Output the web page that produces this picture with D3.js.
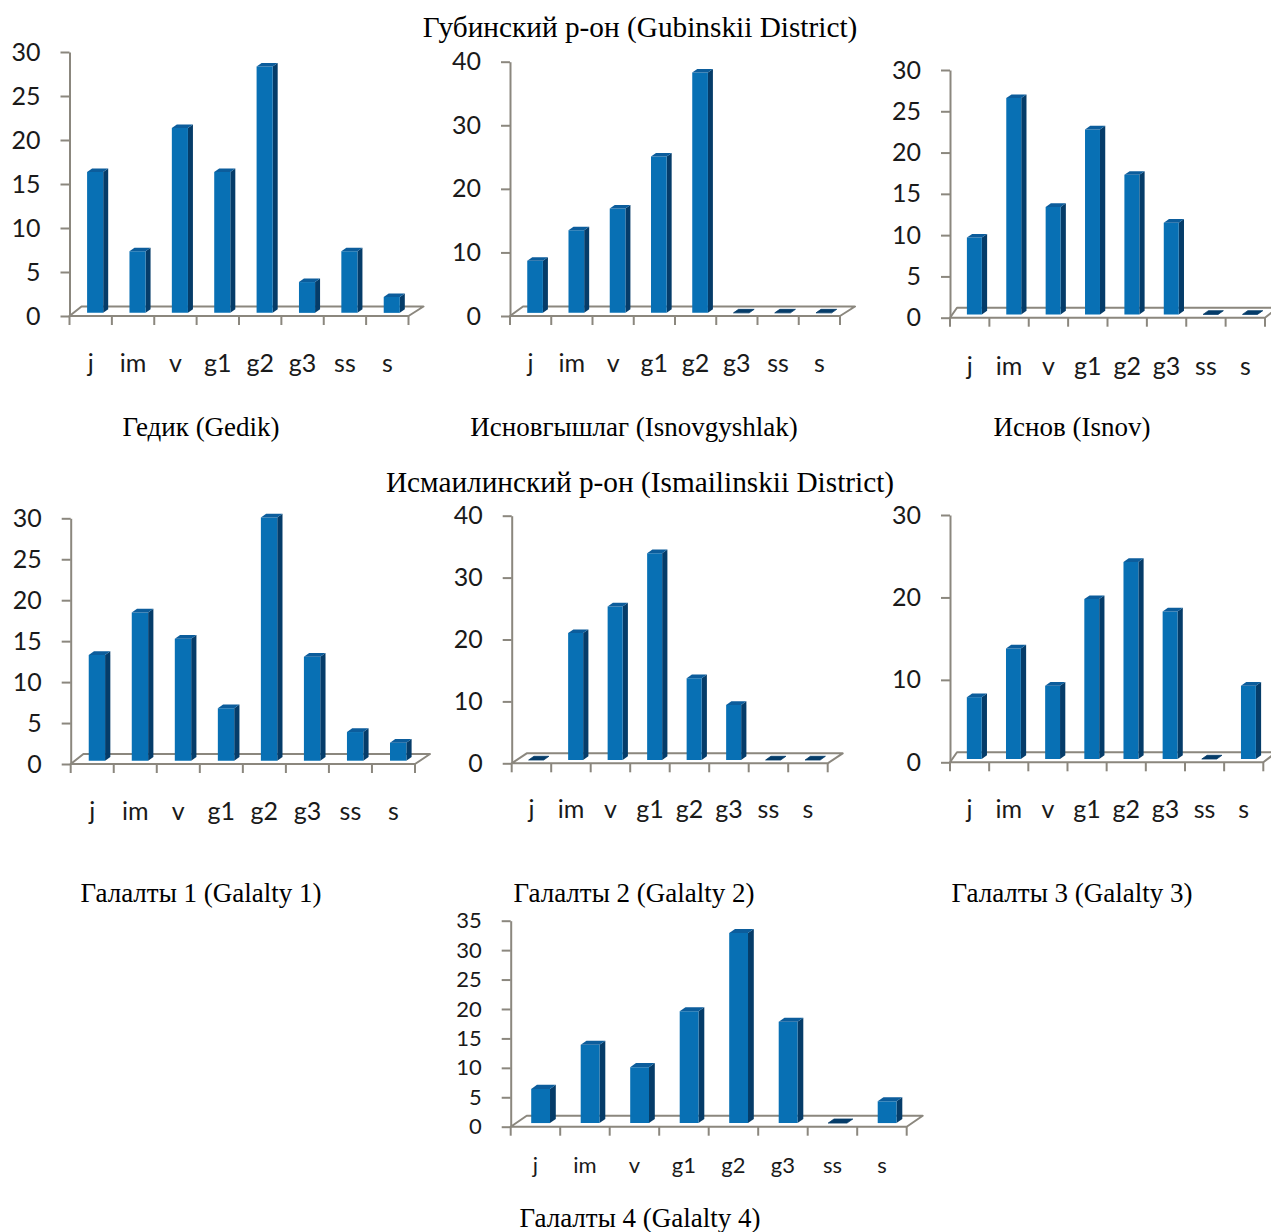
<!DOCTYPE html>
<html><head><meta charset="utf-8">
<script src="https://cdn.jsdelivr.net/npm/d3@7/dist/d3.min.js"></script>
<style>
body{margin:0;background:#fff;}
svg{display:block;}
.ttl{font-family:"Liberation Serif","Times New Roman",serif;font-size:27px;fill:#000;}
.head{font-family:"Liberation Serif","Times New Roman",serif;font-size:29.3px;fill:#000;}
</style></head>
<body>
<svg id="chart" width="1271" height="1232"></svg>
<script>
// ---- data ----
const categories = ["j", "im", "v", "g1", "g2", "g3", "ss", "s"];
const gedik        = [16, 7, 21, 16, 28, 3.5, 7, 1.8];
const isnovgyshlak = [8.2, 13, 16.4, 24.6, 37.8, 0, 0, 0];
const isnov        = [9.3, 26.2, 13, 22.4, 16.9, 11.1, 0, 0];
const galalty1     = [12.9, 18.1, 14.9, 6.4, 29.7, 12.7, 3.5, 2.2];
const galalty2     = [0, 20.5, 24.8, 33.4, 13.2, 8.9, 0, 0];
const galalty3     = [7.5, 13.4, 8.9, 19.4, 23.9, 17.9, 0, 8.9];
const galalty4     = [5.8, 13.3, 9.5, 19.0, 32.3, 17.2, 0, 3.7];
const ticks30by5  = [0, 5, 10, 15, 20, 25, 30];
const ticks40by10 = [0, 10, 20, 30, 40];
const ticks30by10 = [0, 10, 20, 30];
const ticks35by5  = [0, 5, 10, 15, 20, 25, 30, 35];
const headings = ["Губинский р-он (Gubinskii District)", "Исмаилинский р-он (Ismailinskii District)"];
const panelTitles = ["Гедик (Gedik)", "Исновгышлаг (Isnovgyshlak)", "Иснов (Isnov)",
  "Галалты 1 (Galalty 1)", "Галалты 2 (Galalty 2)", "Галалты 3 (Galalty 3)", "Галалты 4 (Galalty 4)"];

// ---- layout ----
const panels = [
  {vals: gedik,        ticks: ticks30by5,  ax: 69.5, rx: 408.5, yTop: 52,    y0: 316,    ddxL: 12, ddxR: 15, ddy: -9.5, lab: 372,  fs: 25, title: [201, 436]},
  {vals: isnovgyshlak, ticks: ticks40by10, ax: 510,  rx: 840,   yTop: 61.7,  y0: 316,    ddxL: 13, ddxR: 15, ddy: -9.5, lab: 372,  fs: 25, title: [634, 436]},
  {vals: isnov,        ticks: ticks30by5,  ax: 950,  rx: 1265,  yTop: 70,    y0: 317.7,  ddxL: 7,  ddxR: 13, ddy: -10,  lab: 375,  fs: 25, title: [1072, 436]},
  {vals: galalty1,     ticks: ticks30by5,  ax: 70.7, rx: 415,   yTop: 518.3, y0: 764,    ddxL: 12.7,ddxR: 15, ddy: -10,  lab: 820,  fs: 25, title: [201, 902]},
  {vals: galalty2,     ticks: ticks40by10, ax: 511.7,rx: 827.7, yTop: 515.7, y0: 763.3,  ddxL: 15, ddxR: 15, ddy: -10,  lab: 818,  fs: 25, title: [634, 902]},
  {vals: galalty3,     ticks: ticks30by10, ax: 950,  rx: 1263.3,yTop: 515,   y0: 762.3,  ddxL: 7,  ddxR: 13, ddy: -10,  lab: 818,  fs: 25, title: [1072, 902]},
  {vals: galalty4,     ticks: ticks35by5,  ax: 510.7,rx: 906.7, yTop: 920.7, y0: 1126.7, ddxL: 16, ddxR: 16, ddy: -11,  lab: 1173, fs: 22, title: [640, 1227]}
];

const AXIS = "#8b877e", FRONT = "#0870b4", SIDE = "#053c69", TOP = "#0c5d9c";
const svg = d3.select("#chart");

svg.append("text").attr("class", "head").attr("x", 640).attr("y", 37).attr("text-anchor", "middle").text(headings[0]);
svg.append("text").attr("class", "head").attr("x", 640).attr("y", 492).attr("text-anchor", "middle").text(headings[1]);

panels.forEach((p, i) => {
  const g = svg.append("g");
  const maxV = d3.max(p.ticks);
  const y = d3.scaleLinear().domain([0, maxV]).range([p.y0, p.yTop]);
  const x = d3.scaleBand().domain(categories).range([p.ax, p.rx]).paddingInner(0).paddingOuter(0);
  const bw = x.bandwidth();
  const barDdx = 13.5 * (p.ddy / -9.5);
  const proj = (xp, v, z, dx) => [xp + z * dx, y(v) + z * p.ddy];

  // floor
  const f = [[p.ax, p.y0], [p.rx, p.y0], [p.rx + p.ddxR, p.y0 + p.ddy], [p.ax + p.ddxL, p.y0 + p.ddy]];
  g.append("path").attr("d", "M" + f.map(q => q.join(",")).join("L") + "Z")
    .attr("fill", "none").attr("stroke", AXIS).attr("stroke-width", 2).attr("stroke-linejoin", "round");

  // y axis
  const yAxis = d3.axisLeft(y).tickValues(p.ticks).tickSize(9).tickSizeOuter(0).tickPadding(20).tickFormat(d3.format("d"));
  const ya = g.append("g").attr("transform", `translate(${p.ax},0)`).call(yAxis);
  ya.select(".domain").attr("stroke", AXIS).attr("stroke-width", 2);
  ya.selectAll(".tick line").attr("stroke", AXIS).attr("stroke-width", 2);
  ya.selectAll(".tick text").attr("fill", "#1a1a1a").style("font-family", "Lato, 'Open Sans', sans-serif").style("font-size", p.fs + "px");

  // x ticks at band boundaries
  const bounds = categories.map(c => x(c)).concat([x.range()[1]]);
  g.selectAll("line.xt").data(bounds).join("line").attr("class", "xt")
    .attr("x1", d => d).attr("x2", d => d).attr("y1", p.y0).attr("y2", p.y0 + 9)
    .attr("stroke", AXIS).attr("stroke-width", 2);
  g.selectAll("text.xl").data(categories).join("text").attr("class", "xl")
    .attr("x", d => x(d) + bw / 2).attr("y", p.lab).attr("text-anchor", "middle")
    .attr("fill", "#1a1a1a").style("font-family", "Lato, 'Open Sans', sans-serif").style("font-size", p.fs + "px")
    .text(d => d);

  // bars
  const z0 = 0.33, z1 = 0.7;
  const poly = pts => "M" + pts.map(q => q.join(",")).join("L") + "Z";
  categories.forEach((c, k) => {
    const v = p.vals[k];
    const xl = x(c) + 0.31 * bw, xr = x(c) + 0.69 * bw;
    const dx = barDdx;
    const bg = g.append("g");
    bg.append("path").attr("d", poly([proj(xr, 0, z0, dx), proj(xr, 0, z1, dx), proj(xr, v, z1, dx), proj(xr, v, z0, dx)]))
      .attr("fill", SIDE);
    bg.append("path").attr("d", poly([proj(xl, 0, z0, dx), proj(xr, 0, z0, dx), proj(xr, v, z0, dx), proj(xl, v, z0, dx)]))
      .attr("fill", FRONT);
    bg.append("path").attr("d", poly([proj(xl, v, z0, dx), proj(xr, v, z0, dx), proj(xr, v, z1, dx), proj(xl, v, z1, dx)]))
      .attr("fill", v === 0 ? SIDE : TOP).attr("stroke", v === 0 ? SIDE : "none").attr("stroke-width", 0.8);
  });

  svg.append("text").attr("class", "ttl").attr("x", p.title[0]).attr("y", p.title[1])
    .attr("text-anchor", "middle").text(panelTitles[i]);
});
</script>
</body></html>
